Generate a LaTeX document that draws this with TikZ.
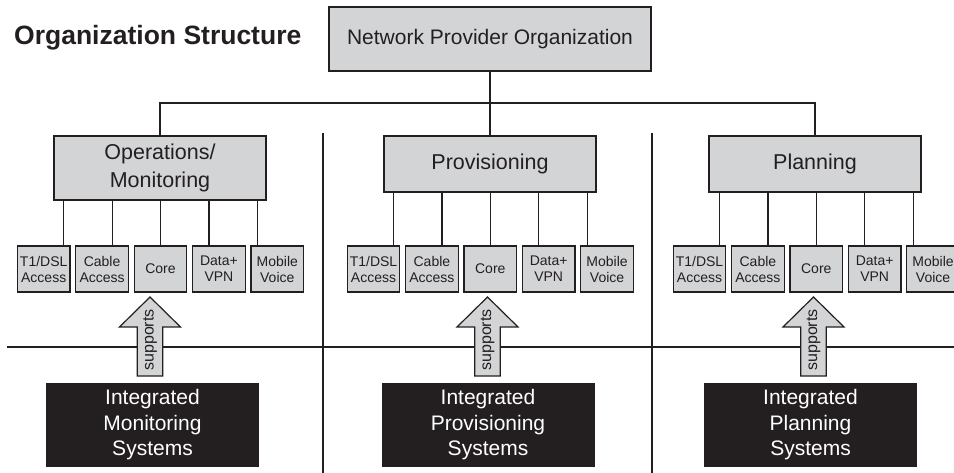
\documentclass[tikz,border=0pt]{standalone}
\usepackage{fontspec}
\setmainfont{Liberation Sans}
\usetikzlibrary{calc}
\definecolor{boxgray}{RGB}{211,212,214}
\definecolor{ink}{RGB}{35,31,32}
\tikzset{
  graybox/.style={draw=ink, fill=boxgray, line width=1.25pt, inner sep=0pt, align=center, text=ink},
  rootbox/.style={graybox, minimum width=322pt, minimum height=64pt, font=\fontsize{21}{25}\selectfont},
  deptbox/.style={graybox, minimum width=212pt, font=\fontsize{21.5}{28}\selectfont},
  unitbox/.style={graybox, minimum width=52.5pt, minimum height=46pt, font=\fontsize{14}{16}\selectfont},
  sysbox/.style={fill=ink, text=white, minimum width=213pt, minimum height=84pt, inner sep=0pt, align=center, font=\fontsize{21}{25.5}\selectfont},
  link/.style={draw=ink, line width=1.2pt},
  supportarrow/.pic={
    \draw[ink, line width=1.2pt, fill=boxgray] (-12.7,0) -- (-12.7,-49) -- (-30.5,-49) -- (0,-79) -- (30.5,-49) -- (12.7,-49) -- (12.7,0) -- cycle;
    \node[rotate=90, font=\fontsize{16}{16}\selectfont, text=ink, inner sep=0pt] at (0,-36) {supports};
  }
}
\begin{document}
\begin{tikzpicture}[x=1pt,y=-1pt]
\useasboundingbox (0,0) rectangle (954,473);
% dividers
\draw[link] (323,133) -- (323,473);
\draw[link] (652,133) -- (652,473);
\draw[link] (7,347) -- (954,347);
% title
\node[anchor=base west, font=\bfseries\fontsize{26.5}{30}\selectfont, inner sep=0pt, text=ink] (title) at (14,45) {Organization Structure};
% top
\node[rootbox] (root) at (490,39) {Network Provider Organization};
\node[deptbox, minimum height=64pt] (ops) at (160,168) {Operations/\\Monitoring};
\node[deptbox, minimum height=56pt] (prov) at (490,164) {Provisioning};
\node[deptbox, minimum height=56pt] (plan) at (815,164) {Planning};
\coordinate (bus) at (490,103);
\draw[link] (root.south) -- (prov.north);
\draw[link] (ops.north) |- (bus) -| (plan.north);
% units
\foreach \dep/\x in {ops/43.7,prov/373.5,plan/699.5}{
  \foreach \lab [count=\k from 0] in {{T1/DSL\\Access},{Cable\\Access},{Core},{Data+\\VPN},{Mobile\\Voice}}{
    \node[unitbox] (\dep-\k) at (\x+\k*58.4,269) {\lab};
  }
}
\foreach \dep in {ops,prov,plan}{
  \foreach \k in {0,...,4}{
    \draw[link] ($(\dep.south -| \dep-2.north)+({(\k-2)*48.4},0)$) -- ($(\dep-\k.north -| \dep-2.north)+({(\k-2)*48.4},0)$);
  }
}
% systems
\node[sysbox] (sys1) at (152.5,425) {Integrated\\Monitoring\\Systems};
\node[sysbox] (sys2) at (488,425) {Integrated\\Provisioning\\Systems};
\node[sysbox] (sys3) at (810.5,425) {Integrated\\Planning\\Systems};
% arrows
\pic at (150,376) {supportarrow};
\pic at (487.5,376) {supportarrow};
\pic at (813.5,376) {supportarrow};
\end{tikzpicture}
\end{document}
